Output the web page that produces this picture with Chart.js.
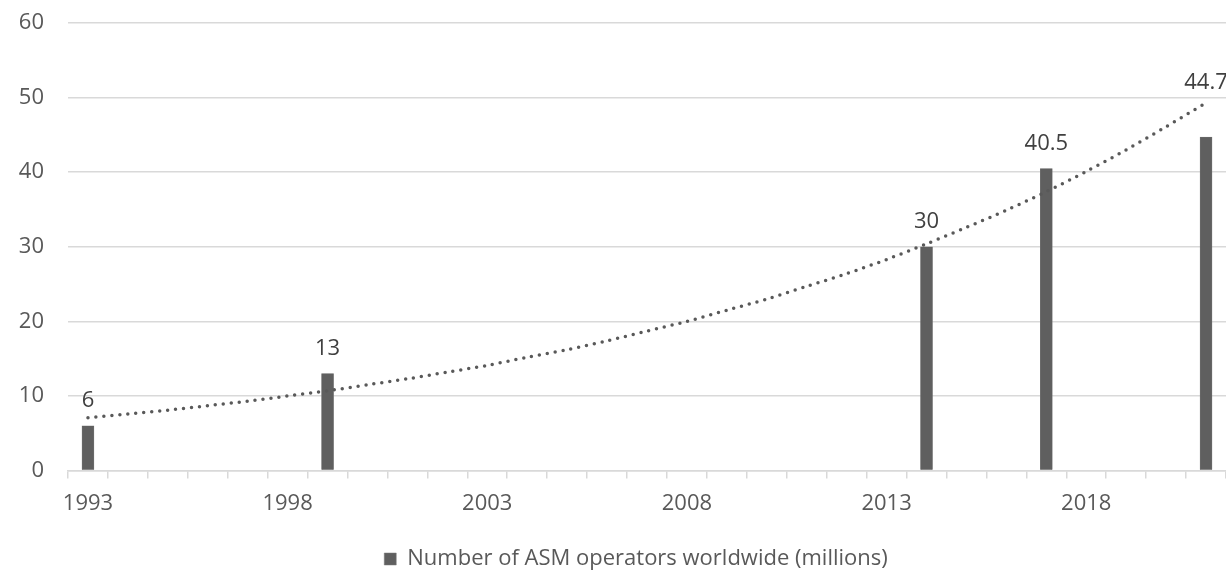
<!DOCTYPE html>
<html>
<head>
<meta charset="utf-8">
<script src="https://cdn.jsdelivr.net/npm/chart.js@4"></script>
<style>
  html, body { margin: 0; padding: 0; background: #fff; }
  #wrap { width: 1226px; height: 574px; }
</style>
</head>
<body>
<div id="wrap"><canvas id="chart" width="1226" height="574"></canvas></div>
<script>
// every year on the axis (Excel date axis, one band per year)
const years = [];
for (let y = 1993; y <= 2021; y++) years.push(String(y));

// reported values
const surveyYears = ["1993", "1999", "2014", "2017", "2021"];
const operators = [6, 13, 30, 40.5, 44.7];

// dotted exponential trend
const trend = [
    7.1, 7.6, 8.1, 8.7, 9.3, 10.0, 10.7, 11.5, 12.3, 13.2,
    14.1, 15.2, 16.2, 17.4, 18.7, 20.0, 21.5, 23.0, 24.7, 26.4,
    28.3, 30.4, 32.6, 34.9, 37.4, 40.1, 43.0, 46.1, 49.3
];

const yTicks = [0, 10, 20, 30, 40, 50, 60];

const FONT = "'Open Sans', 'DejaVu Sans', sans-serif";
const TEXT = "#595959";
const GRID = "#d9d9d9";

const barData = years.map((y) => {
    const i = surveyYears.indexOf(y);
    return i >= 0 ? operators[i] : null;
});

// value labels above bars
const valueLabels = {
    id: "valueLabels",
    afterDatasetsDraw(chart) {
        const meta = chart.getDatasetMeta(1);
        const ctx = chart.ctx;
        ctx.save();
        ctx.font = "22px " + FONT;
        ctx.fillStyle = "#404040";
        ctx.textAlign = "center";
        ctx.textBaseline = "middle";
        const last = barData.length - 1;
        meta.data.forEach((bar, i) => {
            const v = barData[i];
            if (v === null) return;
            const off = i === last ? 54 : 25;
            ctx.fillText(String(v), bar.x, bar.y - off);
        });
        ctx.restore();
    },
};

// legend sits a bit right of the canvas centre in the original
const nudgeLegend = {
    id: "nudgeLegend",
    afterLayout(chart) {
        chart.legend.left += 23;
        chart.legend.right += 23;
    },
};

new Chart(document.getElementById("chart"), {
    type: "bar",
    data: {
        labels: years,
        datasets: [
            {
                type: "line",
                label: "trend",
                data: trend,
                borderColor: "#595959",
                borderWidth: 3.5,
                borderDash: [0, 8],
                borderCapStyle: "round",
                pointRadius: 0,
                tension: 0.3,
                fill: false,
            },
            {
                label: "Number of ASM operators worldwide (millions)",
                data: barData,
                backgroundColor: "#5f5f5f",
                borderColor: "#7a7a7a",
                borderWidth: 0.5,
                barThickness: 12,
                skipNull: true,
            },
        ],
    },
    options: {
        responsive: false,
        animation: false,
        layout: { padding: { top: 23, right: 0, left: 0, bottom: -6 } },
        plugins: {
            tooltip: { enabled: false },
            legend: {
                position: "bottom",
                labels: {
                    filter: (item) => item.text !== "trend",
                    boxWidth: 12,
                    boxHeight: 12,
                    padding: 2,
                    color: TEXT,
                    font: { family: FONT, size: 22 },
                },
            },
        },
        scales: {
            x: {
                offset: true,
                afterFit: (s) => { s.height += 17; },
                grid: {
                    offset: true,
                    drawOnChartArea: false,
                    drawTicks: true,
                    tickLength: 8,
                    color: GRID,
                    lineWidth: 1.5,
                },
                border: { display: true, color: GRID, width: 1.5 },
                ticks: {
                    autoSkip: false,
                    maxRotation: 0,
                    padding: 12,
                    color: TEXT,
                    font: { family: FONT, size: 22 },
                    callback: (v, i) => (i % 5 === 0 ? years[i] : ""),
                },
            },
            y: {
                min: yTicks[0],
                max: yTicks[yTicks.length - 1],
                afterFit: (s) => {
                    s.width = 68;
                    s.paddingTop = 0;
                    s.paddingBottom = 0;
                },
                afterBuildTicks: (s) => { s.ticks = yTicks.map((v) => ({ value: v })); },
                grid: { color: GRID, lineWidth: 1.5, drawTicks: false },
                border: { display: false },
                ticks: {
                    padding: 24,
                    color: TEXT,
                    font: { family: FONT, size: 22 },
                },
            },
        },
    },
    plugins: [valueLabels, nudgeLegend],
});
</script>
</body>
</html>
